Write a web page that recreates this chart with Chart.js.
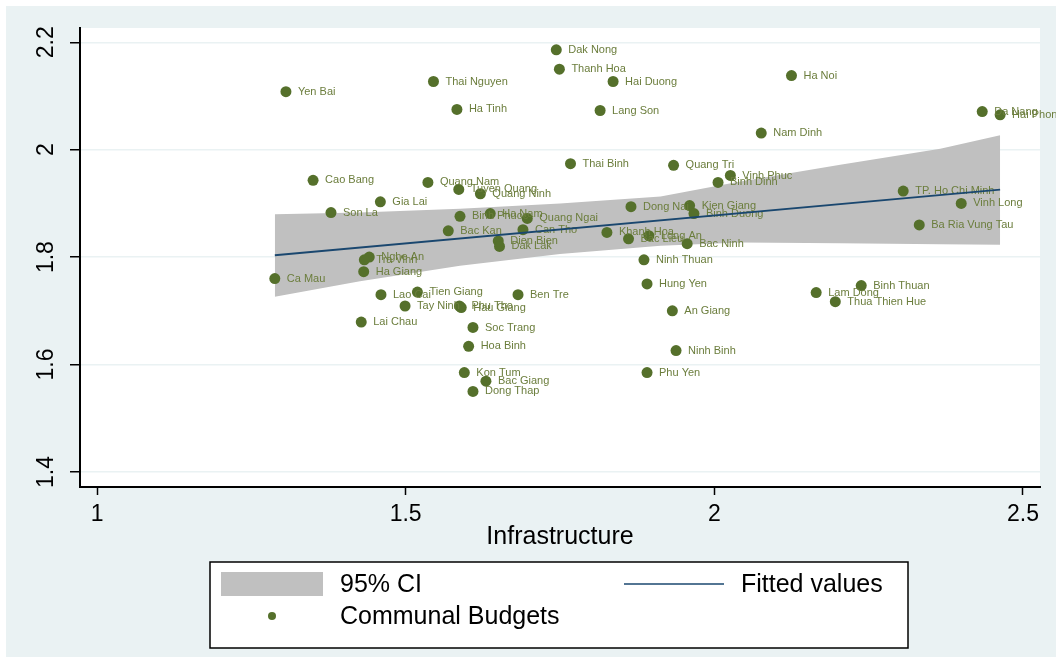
<!DOCTYPE html>
<html><head><meta charset="utf-8">
<script src="https://cdn.jsdelivr.net/npm/chart.js@4.4.1/dist/chart.umd.min.js"></script>
<style>html,body{margin:0;padding:0;background:#fff;overflow:hidden}canvas{display:block}</style>
</head><body>
<canvas id="c" width="1056" height="657"></canvas>
<script>
// ---- data ----
const provinces = ['Dak Nong','Thanh Hoa','Hai Duong','Ha Noi','Thai Nguyen','Yen Bai','Ha Tinh','Lang Son','Da Nang','Hai Phong',
 'Nam Dinh','Thai Binh','Quang Tri','Vinh Phuc','Binh Dinh','Cao Bang','Quang Nam','Tuyen Quang','Quang Ninh','TP. Ho Chi Minh',
 'Gia Lai','Vinh Long','Dong Nai','Kien Giang','Binh Duong','Son La','Binh Phuoc','Ha Nam','Quang Ngai','Bac Kan',
 'Can Tho','Ba Ria Vung Tau','Khanh Hoa','Bac Lieu','Long An','Bac Ninh','Dien Bien','Dak Lak','Nghe An','Tra Vinh',
 'Ha Giang','Ca Mau','Ninh Thuan','Hung Yen','Lao Cai','Tien Giang','Ben Tre','Lam Dong','Binh Thuan','Thua Thien Hue',
 'Tay Ninh','Phu Tho','Hau Giang','An Giang','Lai Chau','Soc Trang','Hoa Binh','Ninh Binh','Kon Tum','Phu Yen',
 'Bac Giang','Dong Thap'];
const infrastructure = [1.744,1.749,1.836,2.125,1.545,1.306,1.583,1.815,2.434,2.463,
 2.076,1.767,1.934,2.026,2.006,1.350,1.536,1.586,1.621,2.306,
 1.459,2.400,1.865,1.960,1.967,1.379,1.588,1.637,1.697,1.569,
 1.690,2.332,1.826,1.861,1.894,1.956,1.650,1.652,1.441,1.433,
 1.432,1.288,1.886,1.891,1.460,1.519,1.682,2.165,2.238,2.196,
 1.499,1.587,1.590,1.932,1.428,1.609,1.602,1.938,1.595,1.891,
 1.630,1.609];
const budgets = [2.186,2.150,2.127,2.138,2.127,2.108,2.075,2.073,2.071,2.065,
 2.031,1.974,1.971,1.952,1.939,1.943,1.939,1.926,1.918,1.923,
 1.903,1.900,1.894,1.896,1.881,1.883,1.876,1.881,1.872,1.849,
 1.851,1.860,1.846,1.834,1.840,1.825,1.830,1.820,1.800,1.795,
 1.773,1.760,1.795,1.750,1.730,1.735,1.730,1.734,1.747,1.717,
 1.709,1.709,1.706,1.700,1.679,1.669,1.634,1.626,1.585,1.585,
 1.569,1.550];
const fitX = [1.288, 2.463];
const fitY = [1.8035, 1.9256];
const ciX = [1.288, 1.426, 1.588, 1.750, 1.913, 2.042, 2.204, 2.366, 2.463];
const ciUpper = [1.880, 1.883, 1.890, 1.900, 1.913, 1.941, 1.972, 2.002, 2.027];
const ciLower = [1.726, 1.755, 1.784, 1.806, 1.821, 1.827, 1.826, 1.824, 1.823];
const xTicks = [1, 1.5, 2, 2.5];
const xTickLabels = ['1', '1.5', '2', '2.5'];
const yTicks = [1.4, 1.6, 1.8, 2, 2.2];
const yTickLabels = ['1.4', '1.6', '1.8', '2', '2.2'];
const xTitle = 'Infrastructure';
const legendLabels = ['95% CI', 'Fitted values', 'Communal Budgets'];

// ---- styles ----
const BG = '#EAF2F3', BAND = '#C0C0C0', NAVY = '#1A476F', MARK = '#55702B', MLAB = '#6B7D3C';
const FONT = "'Liberation Sans', Arial, Helvetica, sans-serif";

const bgPlugin = {
  id: 'bg',
  beforeDraw(chart) {
    const c = chart.ctx, a = chart.chartArea;
    c.save();
    c.fillStyle = '#fff'; c.fillRect(0, 0, chart.width, chart.height);
    c.fillStyle = BG; c.fillRect(6, 6, chart.width - 6, chart.height - 6);
    c.fillStyle = '#fff'; c.fillRect(a.left, a.top, a.right - a.left, a.bottom - a.top);
    c.restore();
  }
};

const textPlugin = {
  id: 'texts',
  afterDatasetDraw(chart, args) {
    if (args.index !== 2) return;
    const c = chart.ctx, meta = chart.getDatasetMeta(2);
    c.save();
    c.font = '11px ' + FONT; c.fillStyle = MLAB; c.textBaseline = 'middle'; c.textAlign = 'left';
    meta.data.forEach((p, i) => c.fillText(provinces[i], p.x + 12, p.y));
    c.restore();
  },
  afterDraw(chart) {
    const c = chart.ctx, xs = chart.scales.x, ys = chart.scales.y, a = chart.chartArea;
    c.save();
    c.fillStyle = '#000';
    // y tick labels (rotated)
    c.font = '23px ' + FONT; c.textAlign = 'center'; c.textBaseline = 'middle';
    yTicks.forEach((v, i) => {
      c.save(); c.translate(47, ys.getPixelForValue(v)); c.rotate(-Math.PI / 2);
      c.fillText(yTickLabels[i], 0, 0); c.restore();
    });
    // x tick labels
    xTicks.forEach((v, i) => c.fillText(xTickLabels[i], xs.getPixelForValue(v), 515));
    // x title
    c.font = '25px ' + FONT;
    c.fillText(xTitle, (a.left + a.right) / 2, 537);
    // legend
    c.fillStyle = '#fff'; c.fillRect(210, 562, 698, 86);
    c.strokeStyle = '#000'; c.lineWidth = 1.5; c.strokeRect(210, 562, 698, 86);
    c.fillStyle = BAND; c.fillRect(221, 572, 102, 24);
    c.strokeStyle = NAVY; c.lineWidth = 1.5;
    c.beginPath(); c.moveTo(624, 584); c.lineTo(724, 584); c.stroke();
    c.fillStyle = MARK; c.beginPath(); c.arc(272, 616, 4, 0, Math.PI * 2); c.fill();
    c.fillStyle = '#000'; c.font = '25px ' + FONT; c.textAlign = 'left';
    c.fillText(legendLabels[0], 340, 585);
    c.fillText(legendLabels[1], 741, 585);
    c.fillText(legendLabels[2], 340, 617);
    c.restore();
  }
};

new Chart(document.getElementById('c'), {
  type: 'line',
  data: {
    datasets: [
      { label: '95% CI', data: ciX.map((x, i) => ({ x, y: ciUpper[i] })), fill: '+1', backgroundColor: BAND,
        borderWidth: 0, borderColor: BAND, pointRadius: 0, order: 3 },
      { label: '95% CI lower', data: ciX.map((x, i) => ({ x, y: ciLower[i] })), fill: false,
        borderWidth: 0, borderColor: BAND, pointRadius: 0, order: 3 },
      { label: 'Communal Budgets', data: infrastructure.map((x, i) => ({ x, y: budgets[i] })), showLine: false,
        pointRadius: 5.5, pointBackgroundColor: MARK, pointBorderWidth: 0, pointBorderColor: MARK, order: 2 },
      { label: 'Fitted values', data: fitX.map((x, i) => ({ x, y: fitY[i] })), fill: false,
        borderColor: NAVY, borderWidth: 1.8, pointRadius: 0, order: 1 }
    ]
  },
  options: {
    responsive: false, animation: false, devicePixelRatio: 1,
    layout: { padding: { left: 0, top: 28, right: 16, bottom: 0 } },
    plugins: { legend: { display: false }, tooltip: { enabled: false } },
    scales: {
      x: {
        type: 'linear', min: 0.9724, max: 2.5276,
        afterBuildTicks: s => { s.ticks = xTicks.map(v => ({ value: v })); },
        afterFit: s => { s.height = 170; },
        ticks: { display: false },
        grid: { drawOnChartArea: false, drawTicks: true, tickLength: 8, tickColor: '#000', tickWidth: 1.5 },
        border: { color: '#000', width: 2 }
      },
      y: {
        type: 'linear', min: 1.372, max: 2.2266,
        afterBuildTicks: s => { s.ticks = yTicks.map(v => ({ value: v })); },
        afterFit: s => { s.width = 80; },
        ticks: { display: false },
        grid: { color: BG, lineWidth: 1.5, drawTicks: true, tickLength: 10, tickColor: '#000', tickWidth: 1.5 },
        border: { color: '#000', width: 2 }
      }
    }
  },
  plugins: [bgPlugin, textPlugin]
});
</script>
</body></html>
